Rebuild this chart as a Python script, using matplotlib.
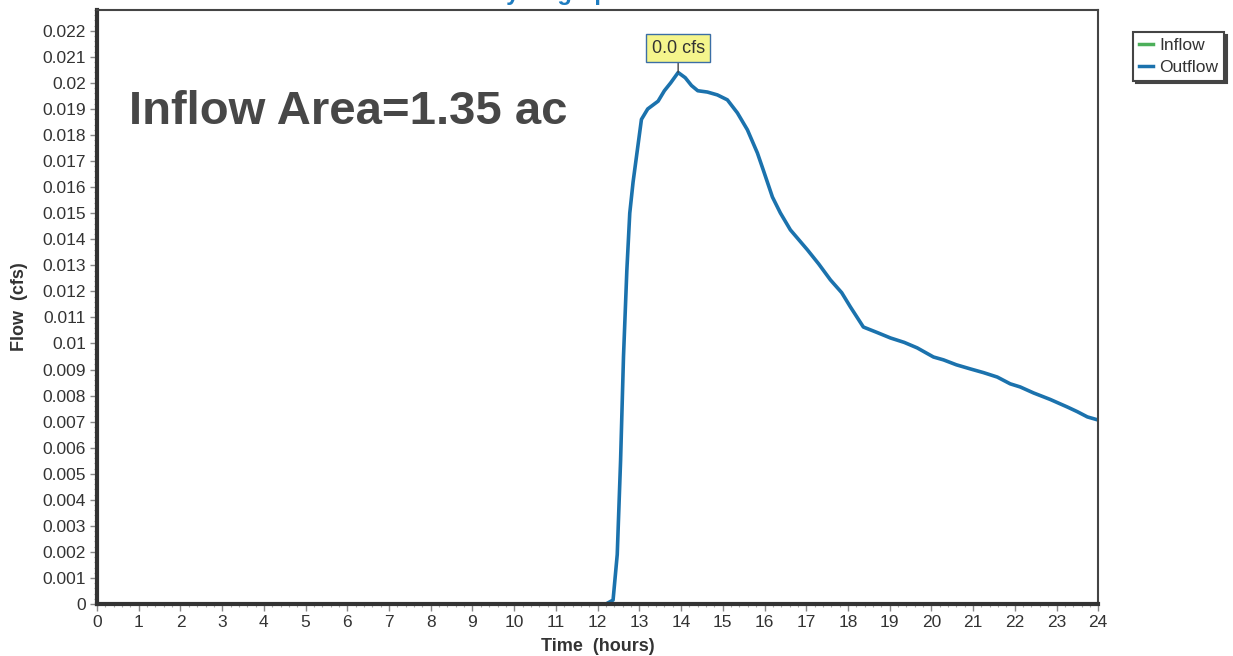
import numpy as np
import matplotlib.pyplot as plt
from matplotlib.ticker import MultipleLocator, AutoMinorLocator

plt.rcParams['font.family'] = ['Liberation Sans', 'DejaVu Sans']

# outflow hydrograph (hours, cfs)
time_h = [0, 12.2, 12.37, 12.47, 12.55, 12.62, 12.7, 12.77, 12.85, 12.95, 13.05,
          13.2, 13.45, 13.6, 13.75, 13.93, 14.1, 14.25, 14.4, 14.63, 14.87, 15.11,
          15.35, 15.59, 15.83, 15.97, 16.19, 16.38, 16.62, 17.03, 17.3, 17.58,
          17.85, 18.06, 18.37, 18.7, 19.02, 19.35, 19.66, 20.05, 20.29, 20.6,
          20.94, 21.25, 21.58, 21.89, 22.13, 22.45, 22.85, 23.26, 23.5, 23.74, 24.0]
outflow = [0, 0, 0.00015, 0.0019, 0.0055, 0.0095, 0.0128, 0.0150, 0.0162, 0.0174,
           0.0186, 0.0190, 0.0193, 0.0197, 0.0200, 0.0204, 0.0202, 0.0199, 0.0197,
           0.01965, 0.01954, 0.01935, 0.01885, 0.0182, 0.01731, 0.01666, 0.01562,
           0.01501, 0.01436, 0.01359, 0.01305, 0.01244, 0.01195, 0.0114, 0.01063,
           0.01042, 0.01021, 0.01004, 0.00983, 0.00948, 0.00937, 0.00918, 0.00902,
           0.00888, 0.00871, 0.00845, 0.00833, 0.0081, 0.00785, 0.00756, 0.00738,
           0.00718, 0.00706]
peak_label = "0.0 cfs"
area_label = "Inflow Area=1.35 ac"

outflow_color = "#1b72ad"
inflow_color = "#4caf5a"
text_color = "#333333"

fig = plt.figure(figsize=(12.33, 6.56), dpi=100)
ax = fig.add_axes([0.0787, 0.0793, 0.812, 0.9055])

ax.plot(time_h, outflow, color=outflow_color, lw=2.6, solid_joinstyle='round')
ax.set_xlim(0, 24)
ax.set_ylim(0, 0.0228)

ax.xaxis.set_major_locator(MultipleLocator(1))
ax.xaxis.set_minor_locator(AutoMinorLocator(5))
ax.yaxis.set_major_locator(MultipleLocator(0.001))
ax.yaxis.set_minor_locator(AutoMinorLocator(5))
ax.yaxis.set_major_formatter(plt.FuncFormatter(lambda v, p: "0" if abs(v) < 1e-9 else f"{v:.3f}".rstrip("0")))
ax.tick_params(which='major', direction='out', length=5, width=1, color='#888888',
               labelsize=12.5, labelcolor=text_color, pad=3)
ax.tick_params(which='minor', direction='out', length=2.5, width=0.8, color='#aaaaaa')

for side in ['left', 'bottom']:
    ax.spines[side].set_linewidth(3)
    ax.spines[side].set_color('#333333')
for side in ['top', 'right']:
    ax.spines[side].set_linewidth(1.5)
    ax.spines[side].set_color('#444444')

ax.set_xlabel("Time  (hours)", fontsize=13, fontweight='bold', color=text_color, labelpad=6)
ax.set_ylabel("Flow  (cfs)", fontsize=13, fontweight='bold', color=text_color, labelpad=10)

# peak annotation
i_peak = int(np.argmax(outflow))
ax.annotate(peak_label, xy=(time_h[i_peak], outflow[i_peak]),
            xytext=(time_h[i_peak], outflow[i_peak] + 0.00093),
            ha='center', va='center', fontsize=13, color=text_color,
            bbox=dict(boxstyle='square,pad=0.3', fc='#f5f58c', ec='#3b6ea5', lw=1),
            arrowprops=dict(arrowstyle='-', color='#444444', lw=1, shrinkA=0, shrinkB=0))

ax.text(0.032, 0.829, area_label, transform=ax.transAxes, fontsize=34,
        fontweight='bold', color='#474747', va='center', ha='left')

# title sits mostly above the visible page, as in the scan
fig.text(0.451, 1.0, "Hydrograph", color='#1e7cc0', fontsize=17,
         fontweight='bold', ha='center', va='baseline')

ax.plot([], [], color=inflow_color, lw=2.5, label='Inflow')
ax.plot([], [], color=outflow_color, lw=2.5, label='Outflow')
handles, labels = ax.get_legend_handles_labels()
leg = fig.legend(handles, labels, loc='upper left', bbox_to_anchor=(0.919, 0.951),
                 fontsize=12.5, frameon=True, fancybox=False, shadow={'color': '#444444', 'alpha': 1},
                 edgecolor='#444444', handlelength=0.8, handletextpad=0.35,
                 labelspacing=0.35, borderpad=0.35, borderaxespad=0)
leg.get_frame().set_linewidth(1.5)
for t in leg.get_texts():
    t.set_color(text_color)

fig.savefig("out.png", dpi=100)
